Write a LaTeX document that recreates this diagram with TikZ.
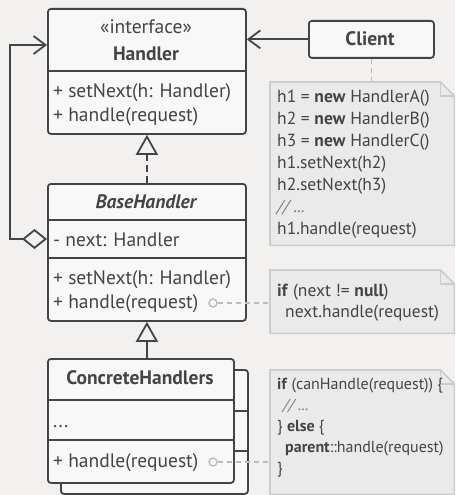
\documentclass[tikz,border=0pt]{standalone}
\usepackage{fontspec}
\setmainfont{PT Sans}
\newfontfamily\notefont{PT Sans}
\usetikzlibrary{arrows.meta}

\definecolor{bg}{HTML}{F3F1F0}
\definecolor{boxfill}{HTML}{F8F8F8}
\definecolor{ink}{HTML}{444444}
\definecolor{notefill}{HTML}{EAEAEA}
\definecolor{noteline}{HTML}{CCCCCC}
\definecolor{linkgray}{HTML}{BBBBBB}

\tikzset{
  classbox/.style={draw=ink, fill=boxfill, line width=1.8pt, rounded corners=3pt,
    inner sep=0pt, anchor=north west},
  divider/.style={draw=ink, line width=1.8pt},
  title/.style={text=ink, inner sep=0pt, anchor=base, font=\fontsize{19.5}{19.5}\selectfont\bfseries},
  stereo/.style={text=ink, inner sep=0pt, anchor=base, font=\fontsize{19.5}{19.5}\selectfont},
  member/.style={text=ink, inner sep=0pt, anchor=base west, font=\fontsize{19.5}{19.5}\selectfont},
  notearea/.style={anchor=north west, inner sep=0pt},
  notetext/.style={anchor=north west, align=left, inner sep=0pt, text=ink,
    font=\notefont\fontsize{17.5}{21}\selectfont},
  port/.style={circle, draw=linkgray, fill=boxfill, line width=1.4pt,
    minimum size=8pt, inner sep=0pt},
  link/.style={draw=linkgray, line width=1.6pt, dash pattern=on 5pt off 4pt},
  assoc/.style={draw=ink, line width=1.8pt, -{Straight Barb[length=12pt, width=18pt]}},
  aggregate/.style={draw=ink, line width=1.8pt,
    {Diamond[open, length=25pt, width=20pt]}-{Straight Barb[length=12pt, width=18pt]}},
  realize/.style={draw=ink, line width=1.8pt, dash pattern=on 7pt off 4pt,
    -{Triangle[open, length=20pt, width=22pt]}},
  extend/.style={draw=ink, line width=1.8pt, -{Triangle[open, length=20pt, width=22pt]}}
}

% note body with folded corner
\newcommand{\notebody}[1]{%
  \draw[fill=notefill, draw=noteline, line width=1.6pt]
    (#1.north west) -- ([xshift=-14pt]#1.north east) -- ([yshift=-14pt]#1.north east)
    -- (#1.south east) -- (#1.south west) -- cycle;
  \draw[draw=noteline, line width=1.6pt, line join=round]
    ([xshift=-14pt]#1.north east) -- ++(0,14) -- ([yshift=-14pt]#1.north east);}
\newcommand{\kw}[1]{\textbf{#1}}
\newcommand{\cmt}[1]{{\color{gray}\itshape #1}}

\begin{document}
\begin{tikzpicture}[x=1pt, y=-1pt]
  % Background
  \fill[bg] (0,0) rectangle (455,495);
  \useasboundingbox (0,0) rectangle (455,495);

  % Handler interface
  \node[classbox, minimum width=198pt, minimum height=125pt] (handler) at (47,8) {};
  \draw[divider] (handler.west |- 0,71) -- (handler.east |- 0,71);
  \node[stereo] (handlerstereo) at (146,34) {«interface»};
  \node[title] (handlertitle) at (146,60) {Handler};
  \node[member] (handlerset) at (53,97) {+ setNext(h: Handler)};
  \node[member] (handlerhandle) at (53,121) {+ handle(request)};

  % Client
  \node[classbox, minimum width=125pt, minimum height=37pt] (client) at (308,20) {};
  \node[title] (clienttitle) at (370,46) {Client};

  % BaseHandler
  \node[classbox, minimum width=198pt, minimum height=137pt] (base) at (47,183) {};
  \draw[divider] (base.west |- 0,220) -- (base.east |- 0,220);
  \draw[divider] (base.west |- 0,258) -- (base.east |- 0,258);
  \node[title, font=\fontsize{19.5}{19.5}\selectfont\bfseries\itshape] (basetitle) at (146,208) {BaseHandler};
  \node[member] (basenext) at (53,246) {- next: Handler};
  \node[member] (baseset) at (53,284) {+ setNext(h: Handler)};
  \node[member] (basehandle) at (53,308) {+ handle(request)};

  % ConcreteHandlers (stacked)
  \node[classbox, minimum width=187pt, minimum height=124pt] (concreteback) at (60,369) {};
  \draw[divider] (concreteback.west |- 0,411) -- (concreteback.east |- 0,411);
  \draw[divider] (concreteback.west |- 0,451) -- (concreteback.east |- 0,451);
  \node[classbox, minimum width=186pt, minimum height=124pt] (concrete) at (47,358) {};
  \draw[divider] (concrete.west |- 0,400) -- (concrete.east |- 0,400);
  \draw[divider] (concrete.west |- 0,440) -- (concrete.east |- 0,440);
  \node[title] (concretetitle) at (140,384) {ConcreteHandlers};
  \node[member] (concretedots) at (53,427) {...};
  \node[member] (concretehandle) at (53,467) {+ handle(request)};

  % Notes
  \node[notearea, minimum width=184pt, minimum height=163pt] (note1) at (270,82) {};
  \node[notearea, minimum width=184pt, minimum height=63pt] (note2) at (270,270) {};
  \node[notearea, minimum width=184pt, minimum height=124pt] (note3) at (270,370) {};

  % Links to notes
  \draw[link] (client.south) -- (client.south |- note1.north);
  \node[port] (baseport) at (213,303) {};
  \node[port] (concreteport) at (213,462) {};
  \draw[link] (baseport.east) -- (baseport -| note2.west);
  \draw[link] (concreteport.east) -- (concreteport -| note3.west);

  \notebody{note1}
  \notebody{note2}
  \notebody{note3}
  \node[notetext, font=\notefont\fontsize{17.5}{22}\selectfont] (note1text) at (277,89.5)
    {h1 = \kw{new} HandlerA()\\h2 = \kw{new} HandlerB()\\
    h3 = \kw{new} HandlerC()\\h1.setNext(h2)\\h2.setNext(h3)\\\cmt{// ...}\\h1.handle(request)};
  \node[notetext] (note2text) at (277,283.5) {\kw{if} (next != \kw{null})\\
    \hspace*{8pt}next.handle(request)};
  \node[notetext, font=\notefont\fontsize{16}{21}\selectfont] (note3text) at (277,377.5)
    {\kw{if} (canHandle(request)) \{\\
    \hspace*{6pt}\cmt{// ...}\\\} \kw{else} \{\\\hspace*{8pt}\kw{parent}::handle(request)\\\}};

  % Connectors
  \draw[assoc] (client.west) -- (client.west -| handler.east);
  \draw[realize] (base.north) -- (handler.south);
  \draw[extend] (base.south |- concrete.north) -- (base.south);
  \coordinate (loopbottom) at (10,239);
  \coordinate (looptop) at (10,45);
  \draw[aggregate] (base.west |- loopbottom) -- (loopbottom) -- (looptop) -- (handler.west |- looptop);
\end{tikzpicture}
\end{document}
